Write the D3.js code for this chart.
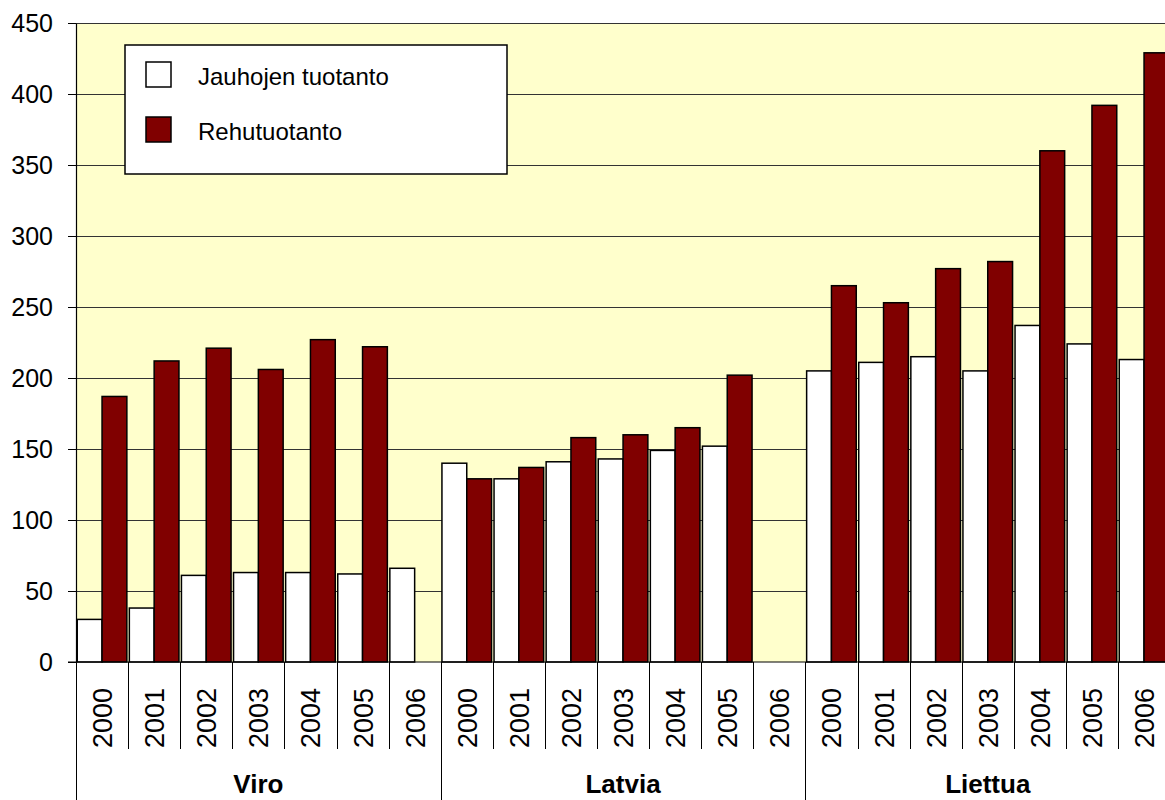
<!DOCTYPE html>
<html>
<head>
<meta charset="utf-8">
<script src="https://cdn.jsdelivr.net/npm/d3@7"></script>
<style>
  body { margin: 0; background: #fff; }
  svg { display: block; font-family: "Liberation Sans", Arial, sans-serif; }
</style>
</head>
<body>
<div id="chart"></div>
<script>
// Chart data
const countries = ["Viro", "Latvia", "Liettua"];
const years = ["2000", "2001", "2002", "2003", "2004", "2005", "2006"];
const seriesNames = ["Jauhojen tuotanto", "Rehutuotanto"];
// one value per country/year, in the order of countries x years
const jauhojenTuotanto = [30, 38, 61, 63, 63, 62, 66,
  140, 129, 141, 143, 149, 152, null,
  205, 211, 215, 205, 237, 224, 213];
const rehutuotanto = [187, 212, 221, 206, 227, 222, null,
  129, 137, 158, 160, 165, 202, null,
  265, 253, 277, 282, 360, 392, 429];
const yTicks = [0, 50, 100, 150, 200, 250, 300, 350, 400, 450];

const colours = ["#ffffff", "#800000"];

// Build rows for drawing
const rows = countries.flatMap((c, ci) =>
  years.map((yr, yi) => {
    const i = ci * years.length + yi;
    return { key: c + "|" + yr, country: c, year: yr, values: [jauhojenTuotanto[i], rehutuotanto[i]] };
  })
);

const width = 1165, height = 800;
const plot = { left: 76, right: 76 + rows.length * 52.1, top: 23, bottom: 662 };

const svg = d3.select("#chart").append("svg")
  .attr("width", width)
  .attr("height", height);

// Scales
const x0 = d3.scaleBand().domain(rows.map((d) => d.key)).range([plot.left, plot.right]);
const x1 = d3.scaleBand().domain(seriesNames).range([0, x0.bandwidth()]).paddingOuter(0.05);
const y = d3.scaleLinear().domain([0, 450]).range([plot.bottom, plot.top]);

// Plot background
svg.append("rect")
  .attr("x", plot.left).attr("y", plot.top)
  .attr("width", plot.right - plot.left).attr("height", plot.bottom - plot.top)
  .attr("fill", "#ffffcc");

// Gridlines
svg.append("g").selectAll("line")
  .data(yTicks.filter((t) => t > 0))
  .enter().append("line")
  .attr("x1", plot.left).attr("x2", plot.right)
  .attr("y1", (d) => Math.round(y(d)) + 0.5).attr("y2", (d) => Math.round(y(d)) + 0.5)
  .attr("stroke", "#333").attr("stroke-width", 1);

// Bars
const groups = svg.append("g").selectAll("g")
  .data(rows).enter().append("g")
  .attr("transform", (d) => `translate(${x0(d.key)},0)`);

groups.selectAll("rect")
  .data((d) => d.values.map((v, i) => ({ name: seriesNames[i], value: v, i })).filter((b) => b.value != null))
  .enter().append("rect")
  .attr("x", (d) => x1(d.name))
  .attr("width", x1.bandwidth())
  .attr("y", (d) => y(d.value))
  .attr("height", (d) => y(0) - y(d.value))
  .attr("fill", (d) => colours[d.i])
  .attr("stroke", "#000")
  .attr("stroke-width", 1.5);

// Y axis
const yAxis = svg.append("g")
  .attr("transform", `translate(${plot.left},0)`)
  .call(d3.axisLeft(y).tickValues(yTicks).tickSize(8).tickSizeOuter(0).tickPadding(15));
yAxis.selectAll("text").attr("font-size", 25).attr("fill", "#000").attr("font-family", null);
yAxis.selectAll("line").attr("stroke", "#000");
yAxis.select(".domain").attr("stroke", "#000").attr("stroke-width", 1.2);

// X axis baseline
svg.append("line")
  .attr("x1", plot.left - 8).attr("x2", plot.right)
  .attr("y1", plot.bottom).attr("y2", plot.bottom)
  .attr("stroke", "#000").attr("stroke-width", 1.2);

// Category separators below axis
const bandEdges = rows.map((d) => x0(d.key)).concat([plot.right]);
svg.append("g").selectAll("line")
  .data(bandEdges)
  .enter().append("line")
  .attr("x1", (d) => Math.round(d) + 0.5).attr("x2", (d) => Math.round(d) + 0.5)
  .attr("y1", plot.bottom)
  .attr("y2", (d, i) => (i % years.length === 0 ? height : 749))
  .attr("stroke", "#000").attr("stroke-width", 1);

// Year labels
svg.append("g").selectAll("text")
  .data(rows).enter().append("text")
  .attr("transform", (d) => `translate(${x0(d.key) + x0.bandwidth() / 2 + 10},748) rotate(-90)`)
  .attr("font-size", 27)
  .attr("fill", "#000")
  .text((d) => d.year);

// Country labels
svg.append("g").selectAll("text")
  .data(countries).enter().append("text")
  .attr("x", (c) => {
    const first = x0(c + "|" + years[0]);
    const last = x0(c + "|" + years[years.length - 1]) + x0.bandwidth();
    return (first + last) / 2;
  })
  .attr("y", 793)
  .attr("text-anchor", "middle")
  .attr("font-size", 26)
  .attr("font-weight", "bold")
  .attr("fill", "#000")
  .text((c) => c);

// Legend
const legend = svg.append("g");
legend.append("rect")
  .attr("x", 125).attr("y", 45).attr("width", 382).attr("height", 129)
  .attr("fill", "#fff").attr("stroke", "#000").attr("stroke-width", 1.5);
const items = legend.selectAll("g.item")
  .data(seriesNames).enter().append("g")
  .attr("transform", (d, i) => `translate(0,${i * 55})`);
items.append("rect")
  .attr("x", 146).attr("y", 62).attr("width", 25).attr("height", 25)
  .attr("fill", (d, i) => colours[i]).attr("stroke", "#000").attr("stroke-width", 1.5);
items.append("text")
  .attr("x", 198).attr("y", 85)
  .attr("font-size", 24)
  .attr("fill", "#000")
  .text((d) => d);
</script>
</body>
</html>
